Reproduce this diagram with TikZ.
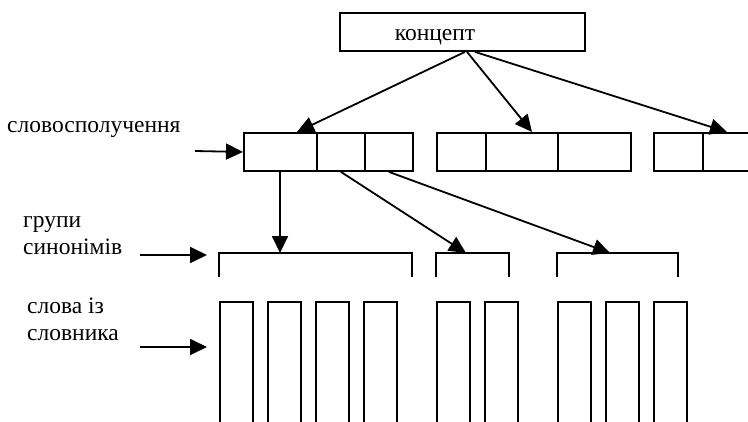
\documentclass[tikz,border=0pt]{standalone}
\usepackage{fontspec}
\setmainfont{Liberation Serif}
\usetikzlibrary{arrows.meta,calc}
\begin{document}
\begin{tikzpicture}[x=1pt,y=-1pt,
  frame/.style={draw,line width=1.9pt,inner sep=0pt,anchor=north west},
  cell/.style={frame,minimum height=38pt},
  word/.style={draw,line width=1.6pt,inner sep=0pt,anchor=north west,minimum width=33pt,minimum height=140pt},
  grp/.style={inner sep=0pt,anchor=north west,minimum height=24pt},
  brk/.style={line width=1.9pt},
  arr/.style={line width=1.8pt,-{Triangle[length=17pt,width=16pt]}},
  lbl/.style={inner sep=0pt,anchor=base west,font=\fontsize{23.5pt}{27pt}\selectfont,align=left}
]
\useasboundingbox (0,0) rectangle (748,421);
\clip (0,0) rectangle (748,421);
% concept
\node[cell,minimum width=245pt] (concept) at (339,12) {};
\node[inner sep=0pt,anchor=base,font=\fontsize{23.5pt}{27pt}\selectfont] (ctext) at (435,40) {концепт};
% phrases
\node[cell,minimum width=73pt] (p11) at (243,132) {};
\node[cell,minimum width=48pt] (p12) at (316,132) {};
\node[cell,minimum width=48pt] (p13) at (364,132) {};
\node[cell,minimum width=49pt] (p21) at (436,132) {};
\node[cell,minimum width=72pt] (p22) at (485,132) {};
\node[cell,minimum width=73pt] (p23) at (557,132) {};
\node[cell,minimum width=49pt] (p31) at (653,132) {};
\node[cell,minimum width=78pt] (p32) at (702,132) {};
% groups
\node[grp,minimum width=193pt] (g1) at (219,253) {};
\node[grp,minimum width=73pt] (g2) at (436,253) {};
\node[grp,minimum width=121pt] (g3) at (557,253) {};
\foreach \g in {g1,g2,g3}
  \draw[brk] (\g.south west) |- (\g.north east) -- (\g.south east);
% words
\node[word] (w1) at (219,301) {};
\node[word] (w2) at (267,301) {};
\node[word] (w3) at (315,301) {};
\node[word] (w4) at (363,301) {};
\node[word] (w5) at (436,301) {};
\node[word] (w6) at (484,301) {};
\node[word] (w7) at (557,301) {};
\node[word] (w8) at (605,301) {};
\node[word] (w9) at (653,301) {};
% labels
\node[lbl] (l1) at (7,132) {словосполучення};
\node[lbl] (l2) at (23,254) {групи\\синонімів};
\node[lbl] (l3) at (27,340) {слова із\\словника};
% arrows from concept
\draw[arr] ($(concept.south west)+(126,0)$) -- ($(p11.north west)+(54,0)$);
\draw[arr] ($(concept.south west)+(128,0)$) -- ($(p22.north west)+(47,0)$);
\draw[arr] ($(concept.south west)+(136,0)$) -- ($(p32.north west)+(25,0)$);
% arrows to groups
\draw[arr] ($(p11.south west)+(37,0)$) -- ($(g1.north west)+(61,0)$);
\draw[arr] (p12.south) -- ($(g2.north west)+(30,0)$);
\draw[arr] (p13.south) -- ($(g3.north west)+(53,0)$);
% side arrows
\coordinate (s1) at (195,151);
\coordinate (s2) at (140,255);
\coordinate (e2) at (207,255);
\coordinate (s3) at (140,347);
\coordinate (e3) at (207,347);
\draw[arr] (s1) -- (p11.west);
\draw[arr] (s2) -- (e2);
\draw[arr] (s3) -- (e3);
\end{tikzpicture}
\end{document}
